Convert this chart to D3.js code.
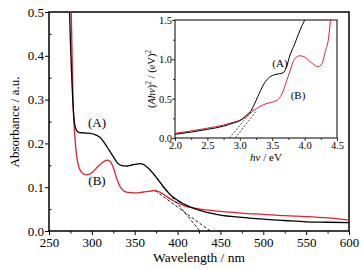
<!DOCTYPE html>
<html><head><meta charset="utf-8">
<script src="https://cdn.jsdelivr.net/npm/d3@7"></script>
<style>body{margin:0;background:#fff}svg{display:block}</style>
</head><body><svg id="c" width="363" height="269"></svg>
<script>
// main spectra: wavelength (nm) / absorbance
const wlA = [270,274,277,279,281,284,290,298,305,310,315,320,325,330,335,340,345,350,356,360,365,370,375,380,385,390,395,400,405,410,420,430,440,450,475,500,525,550,575,600];
const absA = [0.9,0.5,0.33,0.26,0.235,0.226,0.224,0.223,0.219,0.213,0.2,0.185,0.17,0.155,0.149,0.148,0.15,0.152,0.154,0.152,0.145,0.135,0.123,0.11,0.097,0.086,0.077,0.07,0.064,0.059,0.051,0.045,0.04,0.036,0.031,0.027,0.024,0.021,0.02,0.019];
const wlB = [272,276,278,280,282,285,289,294,300,306,312,318,321,325,329,333,337,342,350,360,368,374,380,385,390,395,400,405,410,420,430,440,450,475,500,525,550,575,600];
const absB = [0.9,0.5,0.3,0.22,0.175,0.145,0.132,0.128,0.133,0.145,0.156,0.162,0.16,0.145,0.12,0.101,0.092,0.088,0.087,0.089,0.091,0.092,0.088,0.082,0.075,0.069,0.064,0.06,0.056,0.052,0.049,0.047,0.045,0.041,0.038,0.035,0.033,0.03,0.025];
// tangent lines (main)
const tanMainA = [[368,0.139],[426,0]];
const tanMainB = [[374,0.092],[438,0]];
// inset Tauc plot: photon energy (eV) / (Ahv)^2
const eA = [2.0,2.25,2.5,2.75,2.9,3.0,3.05,3.1,3.16,3.22,3.28,3.36,3.44,3.52,3.6,3.67,3.72,3.775,3.84,3.9,3.96,4.0,4.03];
const tA = [0.047,0.075,0.11,0.15,0.19,0.22,0.25,0.29,0.334,0.42,0.53,0.67,0.76,0.8,0.815,0.83,0.9,1.055,1.18,1.31,1.43,1.5,1.6];
const eB = [2.0,2.25,2.5,2.75,2.9,3.0,3.1,3.2,3.31,3.42,3.52,3.6,3.65,3.72,3.77,3.85,3.93,4.0,4.1,4.21,4.27,4.32,4.37,4.4,4.42];
const tB = [0.06,0.09,0.125,0.165,0.2,0.225,0.27,0.34,0.4,0.44,0.46,0.5,0.56,0.72,0.84,1.01,1.045,1.03,0.96,0.906,0.95,1.1,1.27,1.5,1.6];
const tanInsA = [[2.84,0],[3.22,0.38]];
const tanInsB = [[2.93,0],[3.26,0.35]];
// ticks
const xTicks = [250,300,350,400,450,500,550,600];
const yTicks = [0.0,0.1,0.2,0.3,0.4,0.5];
const ixTicks = [2.0,2.5,3.0,3.5,4.0,4.5];
const iyTicks = [0.0,0.5,1.0,1.5];

const FONT = "'Liberation Serif'";
const RED = "#e2202e";
const svg = d3.select("#c");
const L=49,R=349,T=12,B=231;
const x = d3.scaleLinear().domain([250,600]).range([L,R]);
const y = d3.scaleLinear().domain([0,0.5]).range([B,T]);

const defs = svg.append("defs");
defs.append("clipPath").attr("id","cm").append("rect").attr("x",L).attr("y",T).attr("width",R-L).attr("height",B-T);

// main axes
const gx = svg.append("g").attr("transform",`translate(0,${B})`)
  .call(d3.axisBottom(x).tickValues(xTicks).tickFormat(d3.format("d")).tickSize(4).tickSizeOuter(0));
const gxm = svg.append("g").attr("transform",`translate(0,${B})`)
  .call(d3.axisBottom(x).tickValues(d3.range(275,600,50)).tickFormat("").tickSize(2.5).tickSizeOuter(0));
const gy = svg.append("g").attr("transform",`translate(${L},0)`)
  .call(d3.axisLeft(y).tickValues(yTicks).tickFormat(d3.format(".1f")).tickSize(4).tickSizeOuter(0));
const gym = svg.append("g").attr("transform",`translate(${L},0)`)
  .call(d3.axisRight(y).tickValues([0.05,0.15,0.25,0.35,0.45]).tickFormat("").tickSize(2.5).tickSizeOuter(0));
[gx,gxm,gy,gym].forEach(g=>{g.attr("font-family",null);g.select(".domain").remove();g.selectAll("line").attr("stroke","#000").attr("stroke-width",1);});
gx.selectAll("text").attr("font-size",13).attr("y",6).attr("dy","0.8em");
gy.selectAll("text").attr("font-size",13).attr("x",-5);
svg.append("rect").attr("x",L).attr("y",T).attr("width",R-L).attr("height",B-T).attr("fill","none").attr("stroke","#000").attr("stroke-width",1.5);

const line = d3.line().x(d=>x(d[0])).y(d=>y(d[1])).curve(d3.curveMonotoneX);
const cm = svg.append("g").attr("clip-path","url(#cm)");
cm.append("path").attr("d",line(wlB.map((w,i)=>[w,absB[i]]))).attr("fill","none").attr("stroke",RED).attr("stroke-width",1.3);
cm.append("path").attr("d",line(wlA.map((w,i)=>[w,absA[i]]))).attr("fill","none").attr("stroke","#000").attr("stroke-width",1.3);
const lin = d3.line().x(d=>x(d[0])).y(d=>y(d[1]));
[tanMainA,tanMainB].forEach(t=>cm.append("path").attr("d",lin(t)).attr("fill","none").attr("stroke","#000").attr("stroke-width",0.9).attr("stroke-dasharray","3,2"));

const txt = (x0,y0,s,fs)=>svg.append("text").attr("x",x0).attr("y",y0).attr("text-anchor","middle").attr("font-size",fs).text(s);
txt(97,127,"(A)",13);
txt(97,185,"(B)",13);
txt(199,262,"Wavelength / nm",13.5);
svg.append("text").attr("transform","translate(19,122) rotate(-90)").attr("text-anchor","middle").attr("font-size",13).text("Absorbance / a.u.");

// inset
const iL=175,iR=337,iT=20,iB=138;
const ix = d3.scaleLinear().domain([2.0,4.5]).range([iL,iR]);
const iy = d3.scaleLinear().domain([0,1.5]).range([iB,iT]);
defs.append("clipPath").attr("id","ci").append("rect").attr("x",iL).attr("y",iT).attr("width",iR-iL).attr("height",iB-iT);
const gix = svg.append("g").attr("transform",`translate(0,${iB})`)
  .call(d3.axisBottom(ix).tickValues(ixTicks).tickFormat(d3.format(".1f")).tickSize(3).tickSizeOuter(0));
const gixm = svg.append("g").attr("transform",`translate(0,${iB})`)
  .call(d3.axisBottom(ix).tickValues(d3.range(2.25,4.5,0.5)).tickFormat("").tickSize(2).tickSizeOuter(0));
const giy = svg.append("g").attr("transform",`translate(${iL},0)`)
  .call(d3.axisLeft(iy).tickValues(iyTicks).tickFormat(d3.format(".1f")).tickSize(3).tickSizeOuter(0));
const giym = svg.append("g").attr("transform",`translate(${iL},0)`)
  .call(d3.axisLeft(iy).tickValues([0.25,0.75,1.25]).tickFormat("").tickSize(2).tickSizeOuter(0));
[gix,gixm,giy,giym].forEach(g=>{g.attr("font-family",null);g.select(".domain").remove();g.selectAll("line").attr("stroke","#000").attr("stroke-width",0.8);});
gix.selectAll("text").attr("font-size",10.5).attr("y",3).attr("dy","0.75em");
giy.selectAll("text").attr("font-size",10.5).attr("x",-3);
svg.append("rect").attr("x",iL).attr("y",iT).attr("width",iR-iL).attr("height",iB-iT).attr("fill","none").attr("stroke","#000").attr("stroke-width",1);
const iline = d3.line().x(d=>ix(d[0])).y(d=>iy(d[1])).curve(d3.curveMonotoneX);
const ci = svg.append("g").attr("clip-path","url(#ci)");
ci.append("path").attr("d",iline(eB.map((e,i)=>[e,tB[i]]))).attr("fill","none").attr("stroke",RED).attr("stroke-width",1);
ci.append("path").attr("d",iline(eA.map((e,i)=>[e,tA[i]]))).attr("fill","none").attr("stroke","#000").attr("stroke-width",1);
const ilin = d3.line().x(d=>ix(d[0])).y(d=>iy(d[1]));
[tanInsA,tanInsB].forEach(t=>ci.append("path").attr("d",ilin(t)).attr("fill","none").attr("stroke","#000").attr("stroke-width",0.7).attr("stroke-dasharray","2,1.5"));
txt(280,67,"(A)",11);
txt(298,99,"(B)",11);
const xl = svg.append("text").attr("x",266).attr("y",161).attr("text-anchor","middle").attr("font-size",11);
xl.append("tspan").attr("font-style","italic").text("hν");
xl.append("tspan").text(" / eV");
const yl = svg.append("text").attr("transform","translate(155,79) rotate(-90)").attr("text-anchor","middle").attr("font-size",10.5);
yl.append("tspan").text("(");
yl.append("tspan").attr("font-style","italic").text("Ahν");
yl.append("tspan").text(")");
yl.append("tspan").attr("font-size",7.5).attr("dy",-4).text("2");
yl.append("tspan").attr("dy",4).text(" / (eV)");
yl.append("tspan").attr("font-size",7.5).attr("dy",-4).text("2");
svg.selectAll("text").style("font-family",FONT).style("fill","#000");
</script></body></html>
